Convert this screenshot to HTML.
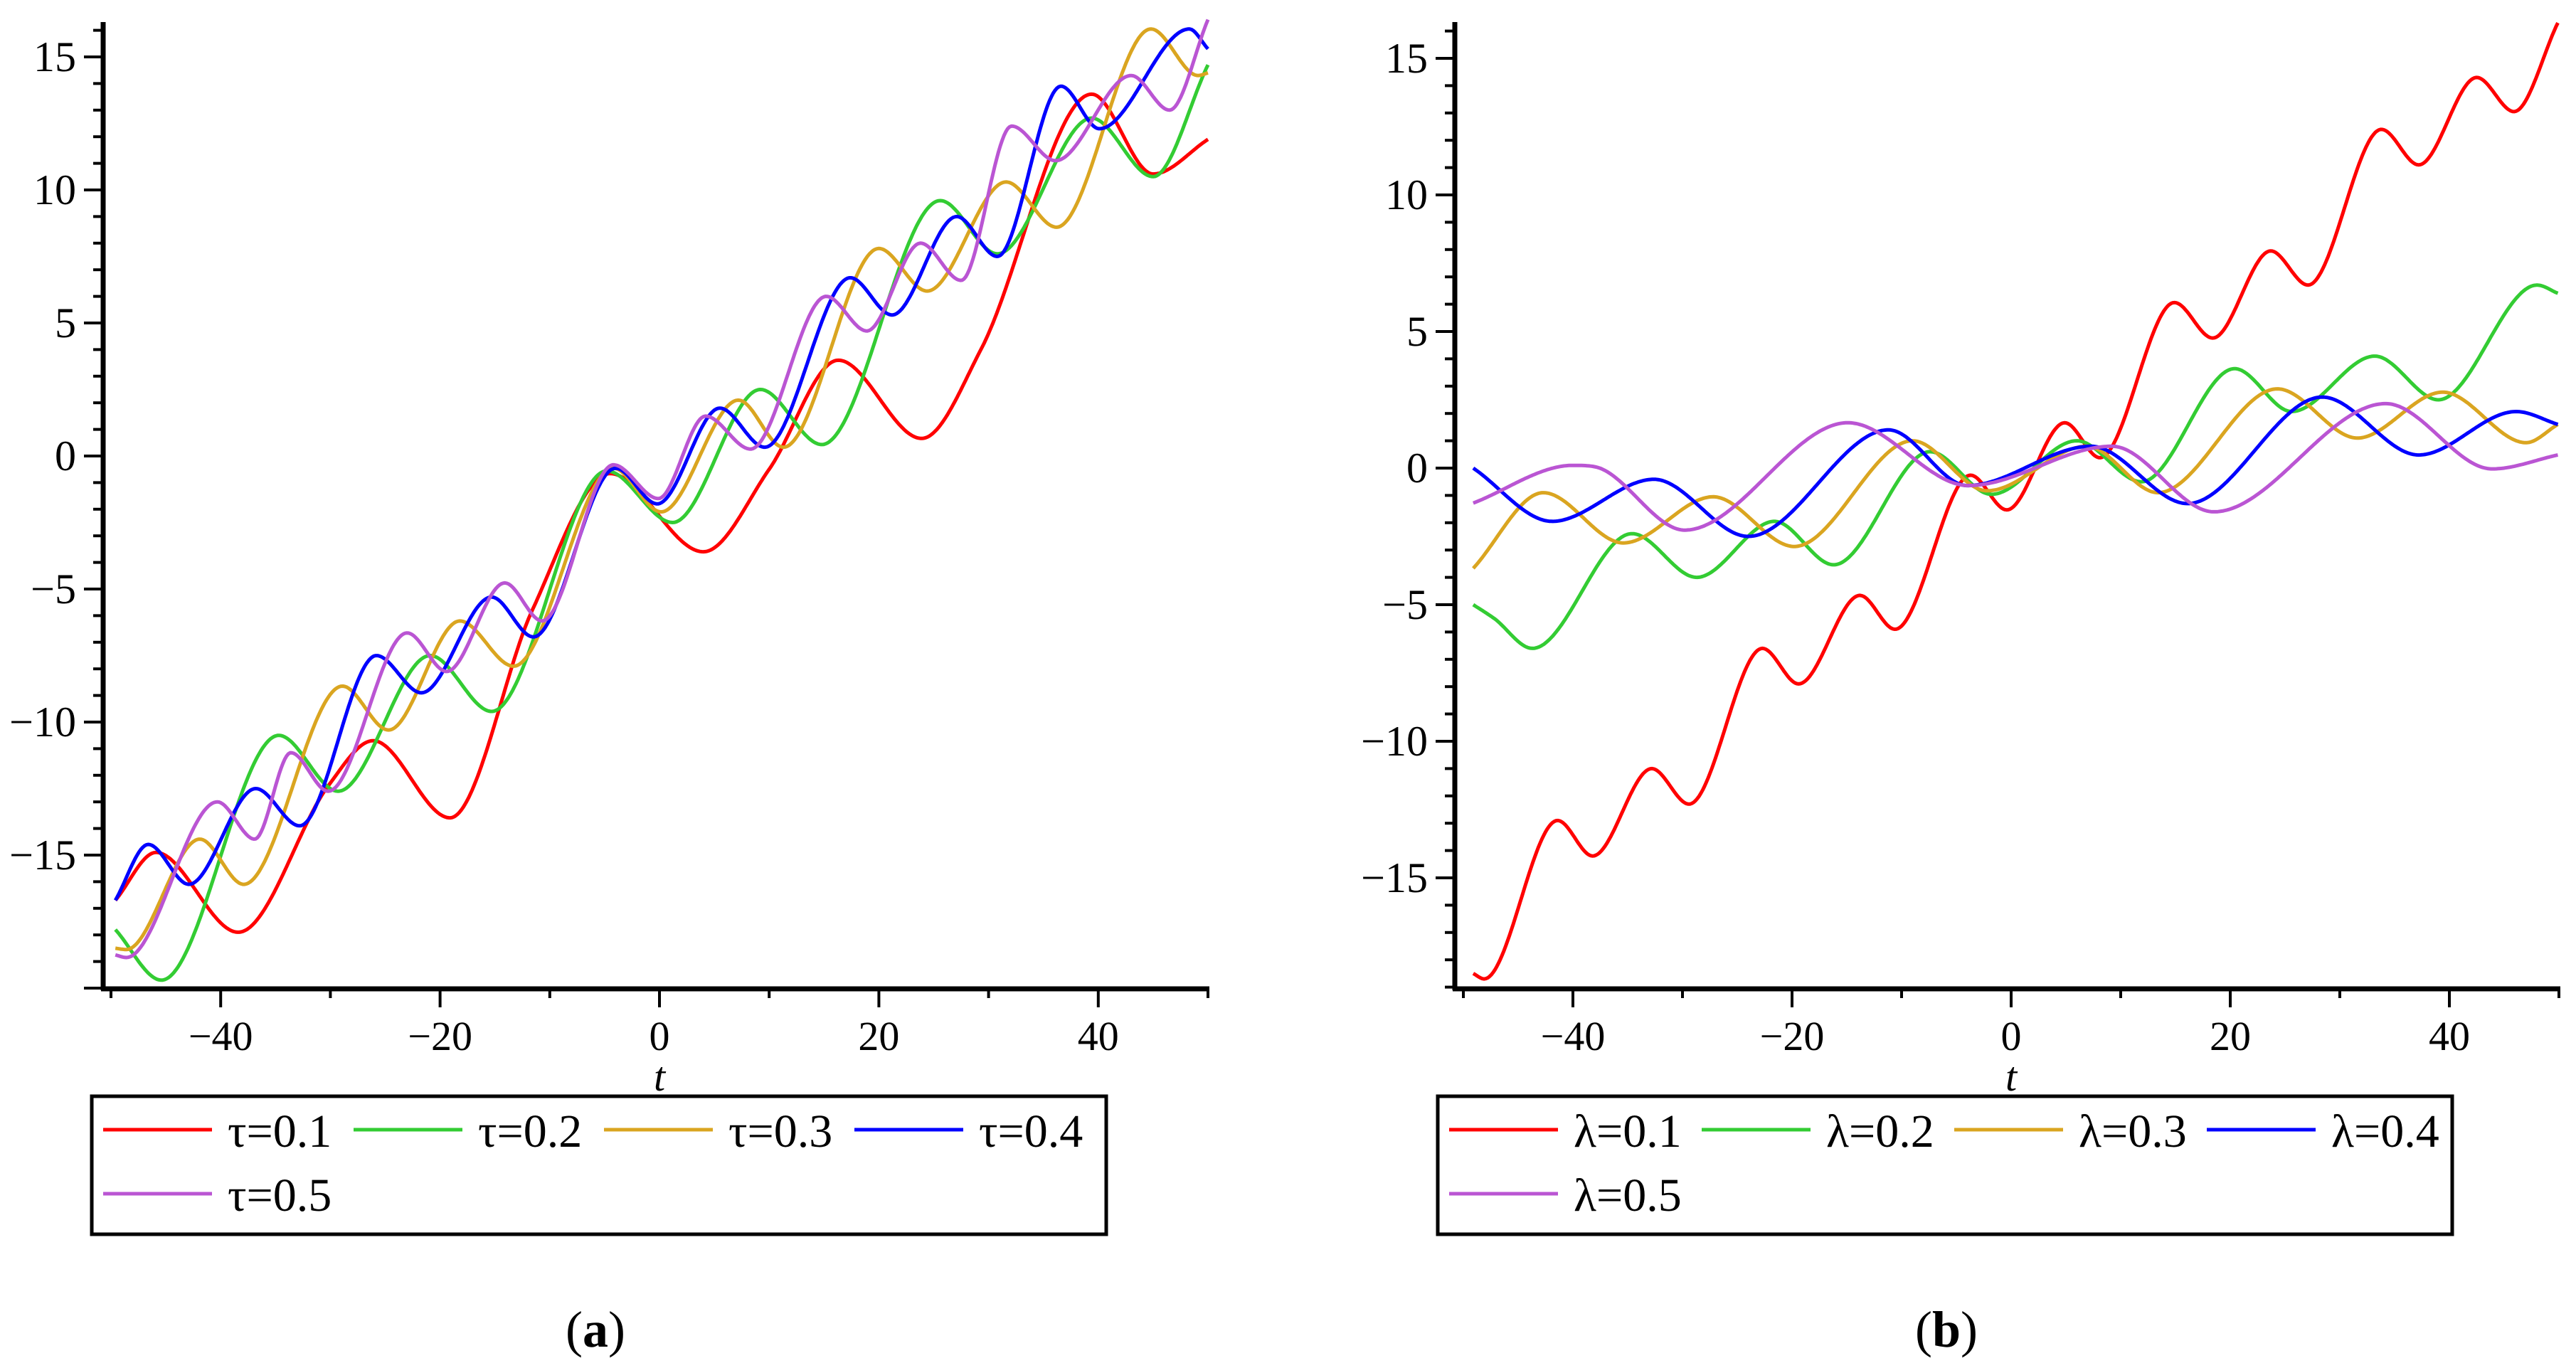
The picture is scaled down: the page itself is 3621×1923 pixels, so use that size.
<!DOCTYPE html>
<html><head><meta charset="utf-8"><style>
html,body{margin:0;padding:0;background:#fff;}
svg{display:block;}
text{font-family:"Liberation Serif",serif;fill:#000;}
</style></head><body>
<svg id="chart" width="3621" height="1923" viewBox="0 0 3621 1923" xmlns="http://www.w3.org/2000/svg"></svg>
<script>
// ---- Panel (a) data: tau series (t, value) key points
const aLabels = ["τ=0.1","τ=0.2","τ=0.3","τ=0.4","τ=0.5"];
const aTau01T = [-49.6,-45.9,-38.4,-30.2,-26.1,-19.1,-11.6,-4.5,4.0,10,16.3,23.9,29.3,39.4,45,50];
const aTau01V = [-16.7,-14.9,-17.9,-12.4,-10.7,-13.6,-5.8,-0.66,-3.6,-0.5,3.6,0.66,4.0,13.6,10.6,11.9];
const aTau02T = [-49.6,-45.4,-34.7,-29.3,-20.9,-15.3,-4.8,1.2,9.2,14.8,25.6,30.8,39.4,45,50];
const aTau02V = [-17.8,-19.7,-10.5,-12.6,-7.5,-9.6,-0.56,-2.5,2.5,0.43,9.6,7.6,12.7,10.5,14.7];
const aTau03T = [-49.6,-48.6,-41.9,-37.9,-28.9,-24.7,-18.2,-13.3,-4.2,0.15,7.2,11.3,20,24.4,31.6,36.2,44.8,49.1,50];
const aTau03V = [-18.5,-18.55,-14.4,-16.1,-8.65,-10.3,-6.2,-7.9,-0.46,-2.1,2.1,0.33,7.8,6.2,10.3,8.6,16.05,14.3,14.4];
const aTau04T = [-49.6,-46.6,-42.9,-36.8,-32.8,-25.8,-21.7,-15.3,-11.5,-4,-0.2,5.5,9.6,17.4,21.2,27.1,30.8,36.6,40.1,48.3,50];
const aTau04V = [-16.7,-14.6,-16.1,-12.5,-13.9,-7.5,-8.9,-5.3,-6.8,-0.46,-1.8,1.8,0.33,6.7,5.3,9.0,7.5,13.9,12.3,16.05,15.3];
const aTau05T = [-49.6,-48.6,-40.3,-36.9,-33.6,-30.2,-23,-19.4,-14.1,-10.7,-4.2,-0.1,4.2,8.3,15.2,18.9,23.8,27.5,32.1,36.1,43,46.5,50];
const aTau05V = [-18.75,-18.85,-13,-14.4,-11.15,-12.6,-6.65,-8.1,-4.77,-6.2,-0.33,-1.6,1.5,0.26,6.0,4.7,8.0,6.6,12.4,11.1,14.3,13.0,16.4];
// ---- Panel (b) data: lambda series
const bLabels = ["λ=0.1","λ=0.2","λ=0.3","λ=0.4","λ=0.5"];
const bLam01T = [-49.1,-48.1,-41.4,-38.2,-32.8,-29.4,-22.7,-19.4,-13.8,-10.6,-3.7,-0.4,4.9,8.1,14.9,18.4,23.7,27.1,33.8,37.2,42.5,45.9,49.9];
const bLam01V = [-18.5,-18.7,-12.9,-14.2,-11.0,-12.3,-6.6,-7.9,-4.66,-5.9,-0.26,-1.53,1.66,0.38,6.06,4.76,7.95,6.7,12.4,11.1,14.3,13.05,16.3];
const bLam02T = [-49.1,-47.2,-43.7,-34.6,-28.7,-21.6,-16.2,-7.4,-1.8,6,11.9,20.4,25.6,33.2,39,48,49.9];
const bLam02V = [-5.0,-5.5,-6.6,-2.4,-4.0,-1.95,-3.54,0.6,-0.96,1.0,-0.5,3.64,2.07,4.1,2.5,6.7,6.4];
const bLam03T = [-49.1,-42.7,-35.4,-27.2,-19.8,-9,-2.2,6.9,13.4,24.3,31.6,39.4,47,49.9];
const bLam03V = [-3.67,-0.9,-2.74,-1.05,-2.87,1.0,-0.83,0.8,-0.9,2.9,1.1,2.78,0.93,1.6];
const bLam04T = [-49.1,-41.9,-32.6,-24,-11.2,-4,7.3,16.1,28.4,37.2,46.1,49.9];
const bLam04V = [0,-1.95,-0.41,-2.5,1.4,-0.64,0.8,-1.3,2.6,0.48,2.07,1.6];
const bLam05T = [-49.1,-40,-38,-29.8,-14.9,-3.9,9.2,18.5,34.2,43.9,49.9];
const bLam05V = [-1.28,0.1,0.05,-2.27,1.66,-0.64,0.8,-1.6,2.36,-0.03,0.48];
const xTickValues = [-50,-40,-30,-20,-10,0,10,20,30,40,50];
const xTickLabels = ["","−40","","−20","","0","","20","","40",""];
const yMajorTicks = [-15,-10,-5,0,5,10,15];
const yMajorLabels = ["−15","−10","−5","0","5","10","15"];
const colors = ["#ff0000","#33cc33","#daa520","#0000ff","#ba55d3"];

const NS="http://www.w3.org/2000/svg";
const svg=document.getElementById('chart');
function mk(tag,attrs,parent){const e=document.createElementNS(NS,tag);for(const k in attrs)e.setAttribute(k,attrs[k]);(parent||svg).appendChild(e);return e;}

function monotone(xs,ys){
  const n=xs.length,d=[],m=[];
  for(let i=0;i<n-1;i++)d.push((ys[i+1]-ys[i])/(xs[i+1]-xs[i]));
  m[0]=d[0];m[n-1]=d[n-2];
  for(let i=1;i<n-1;i++){m[i]=(d[i-1]*d[i]<=0)?0:(d[i-1]+d[i])/2;}
  for(let i=0;i<n-1;i++){if(d[i]===0){m[i]=0;m[i+1]=0;continue;}const a=m[i]/d[i],b=m[i+1]/d[i],s=a*a+b*b;if(s>9){const t=3/Math.sqrt(s);m[i]=t*a*d[i];m[i+1]=t*b*d[i];}}
  return function(x){let i=0;while(i<n-2&&x>xs[i+1])i++;const h=xs[i+1]-xs[i],t=(x-xs[i])/h;const t2=t*t,t3=t2*t;
    return (2*t3-3*t2+1)*ys[i]+(t3-2*t2+t)*h*m[i]+(-2*t3+3*t2)*ys[i+1]+(t3-t2)*h*m[i+1];};
}

function panel(cfg){
  const g=mk('g',{});
  
  
  const X=t=>cfg.x0+cfg.sx*t, Y=v=>cfg.y0-cfg.sy*v;
  // curves
  const cg=mk('g',{},g);
  cfg.series.forEach((s,i)=>{
    const f=monotone(s[0],s[1]);let d='';
    const t0=s[0][0],t1=s[0][s[0].length-1];
    for(let k=0;k<=600;k++){const t=t0+(t1-t0)*k/600;d+=(k?'L':'M')+X(t).toFixed(1)+','+Y(f(t)).toFixed(1);}
    const p=mk('path',{d:d,fill:'none',stroke:colors[i],'stroke-width':5,'stroke-linejoin':'round'},cg);
    
    
  });
  // axes
  const ax=mk('line',{x1:cfg.axisX,y1:31,x2:cfg.axisX,y2:1392,stroke:'#000','stroke-width':7},g);
  
  const axx=mk('line',{x1:cfg.axisX-3,y1:1390,x2:X(50)+2,y2:1390,stroke:'#000','stroke-width':7},g);
  
  xTickValues.forEach((t,i)=>{
    const major=xTickLabels[i]!==''||t===0;
    mk('line',{x1:X(t),y1:1390,x2:X(t),y2:major?1416:1403,stroke:'#000','stroke-width':4},g);
    if(xTickLabels[i]){const tx=mk('text',{x:X(t),y:1476,'font-size':58,'text-anchor':'middle'},g);tx.textContent=xTickLabels[i];
      }
  });
  const lo=Math.ceil((cfg.y0-1390)/cfg.sy), hi=Math.floor(cfg.y0/cfg.sy-31/cfg.sy);
  for(let v=Math.ceil(-(1390-cfg.y0)/cfg.sy);v<=hi;v++){
    const major=v%5===0;
    mk('line',{x1:cfg.axisX,y1:Y(v),x2:cfg.axisX-(major?27:14),y2:Y(v),stroke:'#000','stroke-width':4},g);
  }
  yMajorTicks.forEach((v,i)=>{const tx=mk('text',{x:cfg.axisX-38,y:Y(v)+20,'font-size':60,'text-anchor':'end'},g);tx.textContent=yMajorLabels[i];
    });
  const tl=mk('text',{x:X(0),y:1533,'font-size':58,'font-style':'italic','text-anchor':'middle'},g);tl.textContent='t';
  
  // legend
  const lg=mk('g',{},g);
  mk('rect',{x:cfg.lx,y:1541,width:1426,height:194,fill:'none',stroke:'#000','stroke-width':5},lg);
  cfg.labels.forEach((lab,i)=>{
    const row=i<4?0:1,col=i<4?i:0;const ly=row?1678:1588;
    const x1=cfg.lx+16+col*cfg.lstep;
    const e=mk('g',{},lg);
    mk('line',{x1:x1,y1:ly,x2:x1+153,y2:ly,stroke:colors[i],'stroke-width':5},e);
    const tx=mk('text',{x:x1+175,y:ly+24,'font-size':66},e);tx.textContent=lab;
  });
  const cap=mk('text',{x:cfg.capX,y:1893,'font-size':72,'text-anchor':'middle'},g);
  cap.innerHTML='(<tspan font-weight="bold">'+cfg.cap+'</tspan>)';
  
}

panel({name:'panel-a',x0:927,sx:15.42,y0:641,sy:37.4,axisX:145,lx:129,lstep:352,capX:837,cap:'a',labels:aLabels,
  series:[[aTau01T,aTau01V],[aTau02T,aTau02V],[aTau03T,aTau03V],[aTau04T,aTau04V],[aTau05T,aTau05V]]});
panel({name:'panel-b',x0:2827,sx:15.4,y0:658,sy:38.4,axisX:2045,lx:2021,lstep:355,capX:2736,cap:'b',labels:bLabels,
  series:[[bLam01T,bLam01V],[bLam02T,bLam02V],[bLam03T,bLam03V],[bLam04T,bLam04V],[bLam05T,bLam05V]]});
</script>
</body></html>
